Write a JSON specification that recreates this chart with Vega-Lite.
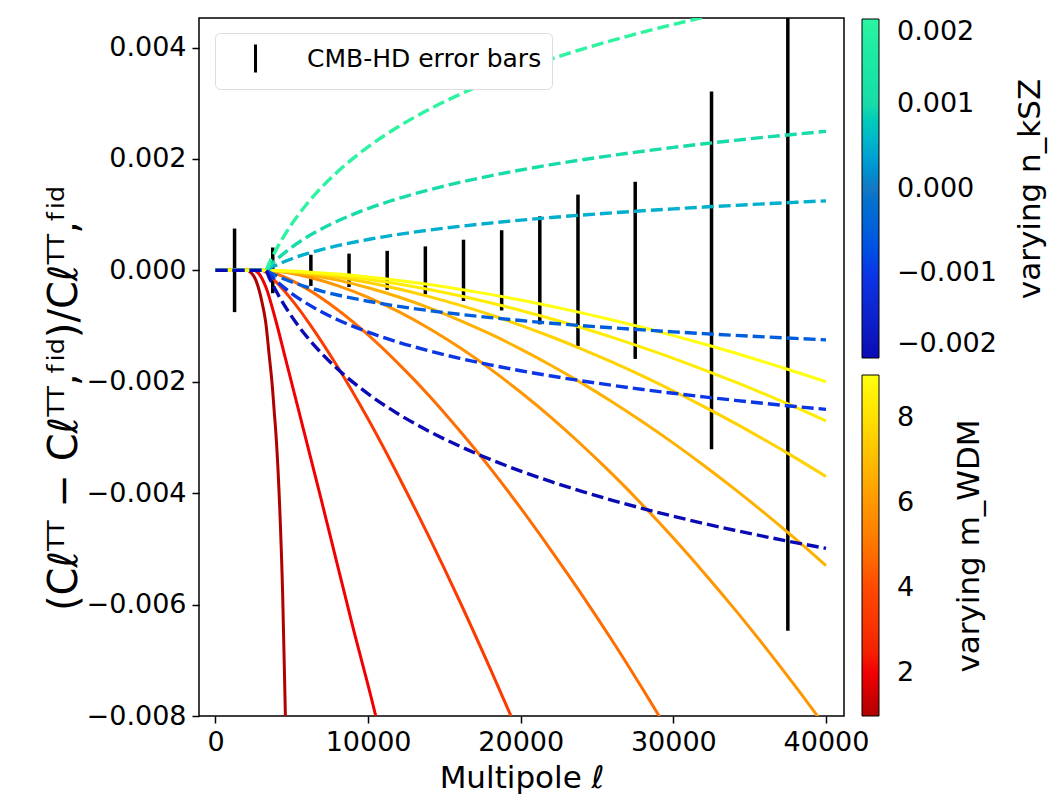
{
  "$schema": "https://vega.github.io/schema/vega-lite/v6.json",
  "width": 645,
  "height": 698,
  "autosize": {"type": "none"},
  "padding": {"left": 199, "top": 18, "right": 220, "bottom": 90},
  "background": "white",
  "config": {
    "font": "DejaVu Sans",
    "view": {"stroke": "black", "strokeWidth": 1.5},
    "axis": {"domain": false, "grid": false, "tickColor": "black", "tickSize": 7, "tickWidth": 1.5, "labelFontSize": 27, "labelColor": "black", "titleFontSize": 31, "titleFontWeight": "normal", "titleColor": "black", "labelPadding": 6, "labelFlush": false, "labelOverlap": false, "titleLimit": 1000},
    "legend": {"labelColor": "black", "titleColor": "black", "titleFontWeight": "normal", "labelLimit": 1000, "titleLimit": 1000}
  },
  "datasets": {
    "err": [
      {"l": 1250, "v": -0.00075, "v2": 0.00075, "s": "CMB-HD error bars"},
      {"l": 3750, "v": -0.00041, "v2": 0.00041, "s": "CMB-HD error bars"},
      {"l": 6250, "v": -0.00028, "v2": 0.00028, "s": "CMB-HD error bars"},
      {"l": 8750, "v": -0.0003, "v2": 0.0003, "s": "CMB-HD error bars"},
      {"l": 11250, "v": -0.00035, "v2": 0.00035, "s": "CMB-HD error bars"},
      {"l": 13750, "v": -0.00043, "v2": 0.00043, "s": "CMB-HD error bars"},
      {"l": 16250, "v": -0.00055, "v2": 0.00055, "s": "CMB-HD error bars"},
      {"l": 18750, "v": -0.00072, "v2": 0.00072, "s": "CMB-HD error bars"},
      {"l": 21250, "v": -0.00097, "v2": 0.00097, "s": "CMB-HD error bars"},
      {"l": 23750, "v": -0.00136, "v2": 0.00136, "s": "CMB-HD error bars"},
      {"l": 27500, "v": -0.00159, "v2": 0.00159, "s": "CMB-HD error bars"},
      {"l": 32500, "v": -0.00321, "v2": 0.00321, "s": "CMB-HD error bars"},
      {"l": 37500, "v": -0.00647, "v2": 0.00647, "s": "CMB-HD error bars"}
    ],
    "nksz": [
      {"n": 0.0005, "l": 0, "v": 0}, {"n": 0.0005, "l": 3300, "v": 0}, {"n": 0.0005, "l": 3500, "v": 0.0000294}, {"n": 0.0005, "l": 4000, "v": 0.0000962}, {"n": 0.0005, "l": 4500, "v": 0.000155}, {"n": 0.0005, "l": 5000, "v": 0.000208}, {"n": 0.0005, "l": 6000, "v": 0.000299}, {"n": 0.0005, "l": 7000, "v": 0.000376}, {"n": 0.0005, "l": 8000, "v": 0.000443}, {"n": 0.0005, "l": 10000, "v": 0.000554}, {"n": 0.0005, "l": 12000, "v": 0.000646}, {"n": 0.0005, "l": 14000, "v": 0.000723}, {"n": 0.0005, "l": 16000, "v": 0.000789}, {"n": 0.0005, "l": 18000, "v": 0.000848}, {"n": 0.0005, "l": 20000, "v": 0.000901}, {"n": 0.0005, "l": 22000, "v": 0.000949}, {"n": 0.0005, "l": 24000, "v": 0.000992}, {"n": 0.0005, "l": 26000, "v": 0.001032}, {"n": 0.0005, "l": 28000, "v": 0.001069}, {"n": 0.0005, "l": 30000, "v": 0.001104}, {"n": 0.0005, "l": 32000, "v": 0.001136}, {"n": 0.0005, "l": 34000, "v": 0.001166}, {"n": 0.0005, "l": 36000, "v": 0.001195}, {"n": 0.0005, "l": 38000, "v": 0.001222}, {"n": 0.0005, "l": 40000, "v": 0.001248},
      {"n": -0.0005, "l": 0, "v": 0}, {"n": -0.0005, "l": 3300, "v": 0}, {"n": -0.0005, "l": 3500, "v": -0.0000294}, {"n": -0.0005, "l": 4000, "v": -0.0000962}, {"n": -0.0005, "l": 4500, "v": -0.000155}, {"n": -0.0005, "l": 5000, "v": -0.000208}, {"n": -0.0005, "l": 6000, "v": -0.000299}, {"n": -0.0005, "l": 7000, "v": -0.000376}, {"n": -0.0005, "l": 8000, "v": -0.000443}, {"n": -0.0005, "l": 10000, "v": -0.000554}, {"n": -0.0005, "l": 12000, "v": -0.000646}, {"n": -0.0005, "l": 14000, "v": -0.000723}, {"n": -0.0005, "l": 16000, "v": -0.000789}, {"n": -0.0005, "l": 18000, "v": -0.000848}, {"n": -0.0005, "l": 20000, "v": -0.000901}, {"n": -0.0005, "l": 22000, "v": -0.000949}, {"n": -0.0005, "l": 24000, "v": -0.000992}, {"n": -0.0005, "l": 26000, "v": -0.001032}, {"n": -0.0005, "l": 28000, "v": -0.001069}, {"n": -0.0005, "l": 30000, "v": -0.001104}, {"n": -0.0005, "l": 32000, "v": -0.001136}, {"n": -0.0005, "l": 34000, "v": -0.001166}, {"n": -0.0005, "l": 36000, "v": -0.001195}, {"n": -0.0005, "l": 38000, "v": -0.001222}, {"n": -0.0005, "l": 40000, "v": -0.001248},
      {"n": 0.001, "l": 0, "v": 0}, {"n": 0.001, "l": 3300, "v": 0}, {"n": 0.001, "l": 3500, "v": 0.0000588}, {"n": 0.001, "l": 4000, "v": 0.000192}, {"n": 0.001, "l": 4500, "v": 0.00031}, {"n": 0.001, "l": 5000, "v": 0.000416}, {"n": 0.001, "l": 6000, "v": 0.000598}, {"n": 0.001, "l": 7000, "v": 0.000752}, {"n": 0.001, "l": 8000, "v": 0.000886}, {"n": 0.001, "l": 10000, "v": 0.001109}, {"n": 0.001, "l": 12000, "v": 0.001291}, {"n": 0.001, "l": 14000, "v": 0.001445}, {"n": 0.001, "l": 16000, "v": 0.001579}, {"n": 0.001, "l": 18000, "v": 0.001696}, {"n": 0.001, "l": 20000, "v": 0.001802}, {"n": 0.001, "l": 22000, "v": 0.001897}, {"n": 0.001, "l": 24000, "v": 0.001984}, {"n": 0.001, "l": 26000, "v": 0.002064}, {"n": 0.001, "l": 28000, "v": 0.002138}, {"n": 0.001, "l": 30000, "v": 0.002207}, {"n": 0.001, "l": 32000, "v": 0.002272}, {"n": 0.001, "l": 34000, "v": 0.002332}, {"n": 0.001, "l": 36000, "v": 0.00239}, {"n": 0.001, "l": 38000, "v": 0.002444}, {"n": 0.001, "l": 40000, "v": 0.002495},
      {"n": -0.001, "l": 0, "v": 0}, {"n": -0.001, "l": 3300, "v": 0}, {"n": -0.001, "l": 3500, "v": -0.0000588}, {"n": -0.001, "l": 4000, "v": -0.000192}, {"n": -0.001, "l": 4500, "v": -0.00031}, {"n": -0.001, "l": 5000, "v": -0.000416}, {"n": -0.001, "l": 6000, "v": -0.000598}, {"n": -0.001, "l": 7000, "v": -0.000752}, {"n": -0.001, "l": 8000, "v": -0.000886}, {"n": -0.001, "l": 10000, "v": -0.001109}, {"n": -0.001, "l": 12000, "v": -0.001291}, {"n": -0.001, "l": 14000, "v": -0.001445}, {"n": -0.001, "l": 16000, "v": -0.001579}, {"n": -0.001, "l": 18000, "v": -0.001696}, {"n": -0.001, "l": 20000, "v": -0.001802}, {"n": -0.001, "l": 22000, "v": -0.001897}, {"n": -0.001, "l": 24000, "v": -0.001984}, {"n": -0.001, "l": 26000, "v": -0.002064}, {"n": -0.001, "l": 28000, "v": -0.002138}, {"n": -0.001, "l": 30000, "v": -0.002207}, {"n": -0.001, "l": 32000, "v": -0.002272}, {"n": -0.001, "l": 34000, "v": -0.002332}, {"n": -0.001, "l": 36000, "v": -0.00239}, {"n": -0.001, "l": 38000, "v": -0.002444}, {"n": -0.001, "l": 40000, "v": -0.002495},
      {"n": 0.002, "l": 0, "v": 0}, {"n": 0.002, "l": 3300, "v": 0}, {"n": 0.002, "l": 3500, "v": 0.000118}, {"n": 0.002, "l": 4000, "v": 0.000385}, {"n": 0.002, "l": 4500, "v": 0.00062}, {"n": 0.002, "l": 5000, "v": 0.000831}, {"n": 0.002, "l": 6000, "v": 0.001196}, {"n": 0.002, "l": 7000, "v": 0.001504}, {"n": 0.002, "l": 8000, "v": 0.001771}, {"n": 0.002, "l": 10000, "v": 0.002217}, {"n": 0.002, "l": 12000, "v": 0.002582}, {"n": 0.002, "l": 14000, "v": 0.00289}, {"n": 0.002, "l": 16000, "v": 0.003157}, {"n": 0.002, "l": 18000, "v": 0.003393}, {"n": 0.002, "l": 20000, "v": 0.003604}, {"n": 0.002, "l": 22000, "v": 0.003794}, {"n": 0.002, "l": 24000, "v": 0.003968}, {"n": 0.002, "l": 26000, "v": 0.004128}, {"n": 0.002, "l": 28000, "v": 0.004276}, {"n": 0.002, "l": 30000, "v": 0.004415}, {"n": 0.002, "l": 32000, "v": 0.004544}, {"n": 0.002, "l": 34000, "v": 0.004665}, {"n": 0.002, "l": 36000, "v": 0.004779},
      {"n": -0.002, "l": 0, "v": 0}, {"n": -0.002, "l": 3300, "v": 0}, {"n": -0.002, "l": 3500, "v": -0.000118}, {"n": -0.002, "l": 4000, "v": -0.000385}, {"n": -0.002, "l": 4500, "v": -0.00062}, {"n": -0.002, "l": 5000, "v": -0.000831}, {"n": -0.002, "l": 6000, "v": -0.001196}, {"n": -0.002, "l": 7000, "v": -0.001504}, {"n": -0.002, "l": 8000, "v": -0.001771}, {"n": -0.002, "l": 10000, "v": -0.002217}, {"n": -0.002, "l": 12000, "v": -0.002582}, {"n": -0.002, "l": 14000, "v": -0.00289}, {"n": -0.002, "l": 16000, "v": -0.003157}, {"n": -0.002, "l": 18000, "v": -0.003393}, {"n": -0.002, "l": 20000, "v": -0.003604}, {"n": -0.002, "l": 22000, "v": -0.003794}, {"n": -0.002, "l": 24000, "v": -0.003968}, {"n": -0.002, "l": 26000, "v": -0.004128}, {"n": -0.002, "l": 28000, "v": -0.004276}, {"n": -0.002, "l": 30000, "v": -0.004415}, {"n": -0.002, "l": 32000, "v": -0.004544}, {"n": -0.002, "l": 34000, "v": -0.004665}, {"n": -0.002, "l": 36000, "v": -0.004779}, {"n": -0.002, "l": 38000, "v": -0.004887}, {"n": -0.002, "l": 40000, "v": -0.00499}
    ],
    "wdm": [
      {"m": 1, "l": 0, "v": 0}, {"m": 1, "l": 2000, "v": 0}, {"m": 1, "l": 2500, "v": -0.0001}, {"m": 1, "l": 2800, "v": -0.0003}, {"m": 1, "l": 3070, "v": -0.0006}, {"m": 1, "l": 3300, "v": -0.00095}, {"m": 1, "l": 3510, "v": -0.0015}, {"m": 1, "l": 3730, "v": -0.0021}, {"m": 1, "l": 3840, "v": -0.0025}, {"m": 1, "l": 4000, "v": -0.0031}, {"m": 1, "l": 4200, "v": -0.0042}, {"m": 1, "l": 4400, "v": -0.0058}, {"m": 1, "l": 4580, "v": -0.008}, {"m": 1, "l": 4700, "v": -0.0095},
      {"m": 2, "l": 0, "v": 0}, {"m": 2, "l": 2500, "v": 0}, {"m": 2, "l": 2850, "v": -0.00006}, {"m": 2, "l": 3300, "v": -0.0003}, {"m": 2, "l": 3950, "v": -0.0009}, {"m": 2, "l": 4600, "v": -0.0016}, {"m": 2, "l": 5370, "v": -0.00243}, {"m": 2, "l": 6950, "v": -0.00414}, {"m": 2, "l": 8000, "v": -0.0053}, {"m": 2, "l": 9000, "v": -0.0064}, {"m": 2, "l": 10500, "v": -0.008}, {"m": 2, "l": 11000, "v": -0.0086},
      {"m": 3.4, "l": 0, "v": 0}, {"m": 3.4, "l": 3000, "v": 0}, {"m": 3.4, "l": 4000, "v": -0.000217}, {"m": 3.4, "l": 5000, "v": -0.000531}, {"m": 3.4, "l": 6000, "v": -0.000896}, {"m": 3.4, "l": 8000, "v": -0.00173}, {"m": 3.4, "l": 10000, "v": -0.00267}, {"m": 3.4, "l": 12000, "v": -0.0037}, {"m": 3.4, "l": 14000, "v": -0.00479}, {"m": 3.4, "l": 16000, "v": -0.00594}, {"m": 3.4, "l": 18000, "v": -0.00715}, {"m": 3.4, "l": 20000, "v": -0.0084},
      {"m": 4.8, "l": 0, "v": 0}, {"m": 4.8, "l": 3000, "v": 0}, {"m": 4.8, "l": 4000, "v": -0.000066}, {"m": 4.8, "l": 6000, "v": -0.000333}, {"m": 4.8, "l": 8000, "v": -0.000707}, {"m": 4.8, "l": 10000, "v": -0.00116}, {"m": 4.8, "l": 12000, "v": -0.00168}, {"m": 4.8, "l": 14000, "v": -0.00225}, {"m": 4.8, "l": 16000, "v": -0.00288}, {"m": 4.8, "l": 18000, "v": -0.00355}, {"m": 4.8, "l": 20000, "v": -0.00427}, {"m": 4.8, "l": 22000, "v": -0.00503}, {"m": 4.8, "l": 24000, "v": -0.00582}, {"m": 4.8, "l": 26000, "v": -0.00665}, {"m": 4.8, "l": 28000, "v": -0.00752}, {"m": 4.8, "l": 30000, "v": -0.00842},
      {"m": 5.9, "l": 0, "v": 0}, {"m": 5.9, "l": 3000, "v": 0}, {"m": 5.9, "l": 4000, "v": -0.000018}, {"m": 5.9, "l": 6000, "v": -0.000115}, {"m": 5.9, "l": 8000, "v": -0.000273}, {"m": 5.9, "l": 10000, "v": -0.000484}, {"m": 5.9, "l": 12000, "v": -0.000742}, {"m": 5.9, "l": 14000, "v": -0.001044}, {"m": 5.9, "l": 16000, "v": -0.001387}, {"m": 5.9, "l": 18000, "v": -0.001769}, {"m": 5.9, "l": 20000, "v": -0.002189}, {"m": 5.9, "l": 22000, "v": -0.002644}, {"m": 5.9, "l": 24000, "v": -0.003135}, {"m": 5.9, "l": 26000, "v": -0.003659}, {"m": 5.9, "l": 28000, "v": -0.004216}, {"m": 5.9, "l": 30000, "v": -0.004805}, {"m": 5.9, "l": 32000, "v": -0.005427}, {"m": 5.9, "l": 34000, "v": -0.006077}, {"m": 5.9, "l": 36000, "v": -0.006759}, {"m": 5.9, "l": 38000, "v": -0.007469}, {"m": 5.9, "l": 40000, "v": -0.00821},
      {"m": 6.7, "l": 0, "v": 0}, {"m": 6.7, "l": 3000, "v": 0}, {"m": 6.7, "l": 4000, "v": -0.0000114}, {"m": 6.7, "l": 6000, "v": -0.0000741}, {"m": 6.7, "l": 8000, "v": -0.000176}, {"m": 6.7, "l": 10000, "v": -0.000313}, {"m": 6.7, "l": 12000, "v": -0.000479}, {"m": 6.7, "l": 14000, "v": -0.000674}, {"m": 6.7, "l": 16000, "v": -0.000896}, {"m": 6.7, "l": 18000, "v": -0.001142}, {"m": 6.7, "l": 20000, "v": -0.001413}, {"m": 6.7, "l": 22000, "v": -0.001707}, {"m": 6.7, "l": 24000, "v": -0.002024}, {"m": 6.7, "l": 26000, "v": -0.002362}, {"m": 6.7, "l": 28000, "v": -0.002722}, {"m": 6.7, "l": 30000, "v": -0.003102}, {"m": 6.7, "l": 32000, "v": -0.003503}, {"m": 6.7, "l": 34000, "v": -0.003923}, {"m": 6.7, "l": 36000, "v": -0.004363}, {"m": 6.7, "l": 38000, "v": -0.004822}, {"m": 6.7, "l": 40000, "v": -0.0053},
      {"m": 7.6, "l": 0, "v": 0}, {"m": 7.6, "l": 3000, "v": 0}, {"m": 7.6, "l": 4000, "v": -0.000008}, {"m": 7.6, "l": 6000, "v": -0.0000517}, {"m": 7.6, "l": 8000, "v": -0.000123}, {"m": 7.6, "l": 10000, "v": -0.000218}, {"m": 7.6, "l": 12000, "v": -0.000335}, {"m": 7.6, "l": 14000, "v": -0.000471}, {"m": 7.6, "l": 16000, "v": -0.000625}, {"m": 7.6, "l": 18000, "v": -0.000797}, {"m": 7.6, "l": 20000, "v": -0.000987}, {"m": 7.6, "l": 22000, "v": -0.001192}, {"m": 7.6, "l": 24000, "v": -0.001413}, {"m": 7.6, "l": 26000, "v": -0.001649}, {"m": 7.6, "l": 28000, "v": -0.0019}, {"m": 7.6, "l": 30000, "v": -0.002166}, {"m": 7.6, "l": 32000, "v": -0.002446}, {"m": 7.6, "l": 34000, "v": -0.002739}, {"m": 7.6, "l": 36000, "v": -0.003046}, {"m": 7.6, "l": 38000, "v": -0.003366}, {"m": 7.6, "l": 40000, "v": -0.0037},
      {"m": 8.4, "l": 0, "v": 0}, {"m": 8.4, "l": 3000, "v": 0}, {"m": 8.4, "l": 4000, "v": -0.0000058}, {"m": 8.4, "l": 6000, "v": -0.0000377}, {"m": 8.4, "l": 8000, "v": -0.0000899}, {"m": 8.4, "l": 10000, "v": -0.000159}, {"m": 8.4, "l": 12000, "v": -0.000244}, {"m": 8.4, "l": 14000, "v": -0.000343}, {"m": 8.4, "l": 16000, "v": -0.000456}, {"m": 8.4, "l": 18000, "v": -0.000582}, {"m": 8.4, "l": 20000, "v": -0.00072}, {"m": 8.4, "l": 22000, "v": -0.00087}, {"m": 8.4, "l": 24000, "v": -0.001031}, {"m": 8.4, "l": 26000, "v": -0.001203}, {"m": 8.4, "l": 28000, "v": -0.001387}, {"m": 8.4, "l": 30000, "v": -0.00158}, {"m": 8.4, "l": 32000, "v": -0.001785}, {"m": 8.4, "l": 34000, "v": -0.001998}, {"m": 8.4, "l": 36000, "v": -0.002223}, {"m": 8.4, "l": 38000, "v": -0.002456}, {"m": 8.4, "l": 40000, "v": -0.0027},
      {"m": 9, "l": 0, "v": 0}, {"m": 9, "l": 3000, "v": 0}, {"m": 9, "l": 4000, "v": -0.0000043}, {"m": 9, "l": 6000, "v": -0.000028}, {"m": 9, "l": 8000, "v": -0.0000666}, {"m": 9, "l": 10000, "v": -0.000118}, {"m": 9, "l": 12000, "v": -0.000181}, {"m": 9, "l": 14000, "v": -0.000254}, {"m": 9, "l": 16000, "v": -0.000338}, {"m": 9, "l": 18000, "v": -0.000431}, {"m": 9, "l": 20000, "v": -0.000533}, {"m": 9, "l": 22000, "v": -0.000644}, {"m": 9, "l": 24000, "v": -0.000764}, {"m": 9, "l": 26000, "v": -0.000891}, {"m": 9, "l": 28000, "v": -0.001027}, {"m": 9, "l": 30000, "v": -0.001171}, {"m": 9, "l": 32000, "v": -0.001322}, {"m": 9, "l": 34000, "v": -0.00148}, {"m": 9, "l": 36000, "v": -0.001647}, {"m": 9, "l": 38000, "v": -0.00182}, {"m": 9, "l": 40000, "v": -0.002}
    ]
  },
  "layer": [
    {
      "mark": {"type": "rule", "color": "#8c8c8c", "strokeWidth": 3},
      "encoding": {"y": {"datum": 0, "type": "quantitative", "scale": {"domain": [-0.008, 0.00453], "nice": false, "zero": false}}}
    },
    {
      "data": {"name": "err"},
      "mark": {"type": "rule", "strokeWidth": 3.5, "clip": true},
      "encoding": {
        "x": {"field": "l", "type": "quantitative", "scale": {"domain": [-1080, 41180], "nice": false, "zero": false}, "axis": {"values": [0, 10000, 20000, 30000, 40000], "format": "d", "title": "Multipole ℓ", "titlePadding": 8}},
        "y": {"field": "v", "type": "quantitative", "scale": {"domain": [-0.008, 0.00453], "nice": false, "zero": false}, "axis": {"values": [-0.008, -0.006, -0.004, -0.002, 0, 0.002, 0.004], "format": ".3f", "title": "(Cℓᵀᵀ − Cℓᵀᵀ,ᶠⁱᵈ)/Cℓᵀᵀ,ᶠⁱᵈ", "titlePadding": 2, "titleFontSize": 40, "titleY": 380}},
        "y2": {"field": "v2"},
        "color": {"field": "s", "type": "nominal", "scale": {"range": ["black"]}, "legend": {"orient": "none", "legendX": 16, "legendY": 15, "title": null, "symbolType": "M0,-1L0,1", "symbolSize": 784, "symbolStrokeWidth": 3, "symbolOffset": 15, "labelOffset": 36, "labelFontSize": 25, "padding": 10, "strokeColor": "#dddddd", "fillColor": "white", "cornerRadius": 5}}
      }
    },
    {
      "data": {"name": "wdm"},
      "mark": {"type": "line", "strokeWidth": 3, "clip": true, "interpolate": "monotone"},
      "encoding": {
        "x": {"field": "l", "type": "quantitative"},
        "y": {"field": "v", "type": "quantitative"},
        "detail": {"field": "m", "type": "nominal"},
        "color": {"field": "m", "type": "quantitative", "scale": {"domain": [1, 2, 4, 6, 8, 9], "range": ["#b00000", "#f00000", "#ff4800", "#ff9800", "#ffe000", "#ffff10"]}, "legend": {"orient": "none", "legendX": 663, "legendY": 357, "direction": "vertical", "gradientLength": 341, "gradientThickness": 17, "gradientStrokeColor": "black", "gradientStrokeWidth": 1, "values": [2, 4, 6, 8], "format": "d", "labelFontSize": 27, "labelOffset": 18, "labelBaseline": "middle", "title": "varying m_WDM", "titleOrient": "right", "titleFontSize": 31, "titlePadding": 72, "titleAnchor": "middle", "padding": 0, "encode": {"title": {"update": {"angle": {"value": -90}}}}}}
      }
    },
    {
      "data": {"name": "nksz"},
      "mark": {"type": "line", "strokeWidth": 3.4, "strokeDash": [12, 5], "clip": true, "interpolate": "monotone"},
      "encoding": {
        "x": {"field": "l", "type": "quantitative"},
        "y": {"field": "v", "type": "quantitative"},
        "detail": {"field": "n", "type": "nominal"},
        "color": {"field": "n", "type": "quantitative", "scale": {"domain": [-0.002, -0.001, 0, 0.001, 0.002], "range": ["#0a0ab4", "#0a36e6", "#1478c4", "#18dca8", "#2cf4a0"]}, "legend": {"orient": "none", "legendX": 663, "legendY": 1, "direction": "vertical", "gradientLength": 339, "gradientThickness": 17, "gradientStrokeColor": "black", "gradientStrokeWidth": 1, "values": [-0.002, -0.001, 0, 0.001, 0.002], "format": ".3f", "labelFontSize": 27, "labelOffset": 18, "labelBaseline": "middle", "title": "varying n_kSZ", "titleOrient": "right", "titleFontSize": 31, "titlePadding": 50, "titleAnchor": "middle", "padding": 0, "encode": {"title": {"update": {"angle": {"value": -90}}}}}}
      }
    }
  ],
  "resolve": {"scale": {"color": "independent"}, "legend": {"color": "independent"}}
}
